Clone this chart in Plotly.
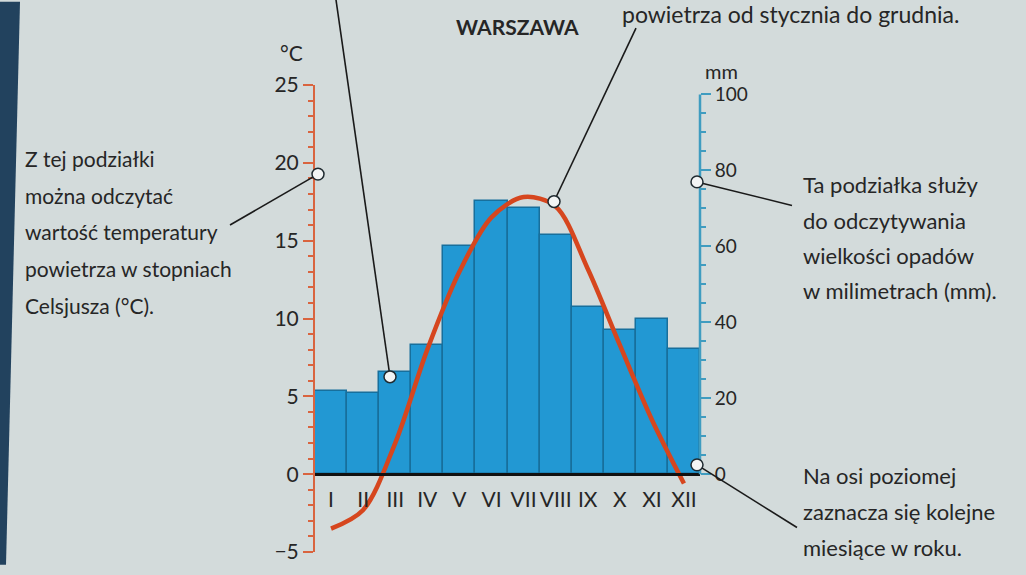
import plotly.graph_objects as go

# ---------------- data ----------------
months = ["I", "II", "III", "IV", "V", "VI", "VII", "VIII", "IX", "X", "XI", "XII"]
precip_mm = [22, 21.5, 27, 34, 60, 72, 70, 63, 44, 38, 41, 33]
temp_c = [-3.5, -2.3, 2.0, 8.0, 13.0, 16.5, 17.8, 17.2, 13.2, 8.3, 3.5, -0.6]
temp_ticks = [-5, 0, 5, 10, 15, 20, 25]
precip_ticks = [0, 20, 40, 60, 80, 100]

left_text = ["Z tej podziałki", "można odczytać", "wartość temperatury",
             "powietrza w stopniach", "Celsjusza (°C)."]
right_text = ["Ta podziałka służy", "do odczytywania", "wielkości opadów",
              "w milimetrach (mm)."]
bottom_text = ["Na osi poziomej", "zaznacza się kolejne", "miesiące w roku."]
top_text = "powietrza od stycznia do grudnia."
title_text = "WARSZAWA"

# ---------------- layout geometry ----------------
W, H = 1026, 575
L, R, T, B = 315, 326, 85, 13
PW, PH = W - L - R, H - T - B
T_RANGE = [-5, 25]
P_RANGE = [-20.5, 102.5]


def px(x):
    return (x - L) / PW


def py(y):
    return (H - B - y) / PH


BG = "#d3dbdb"
RED = "#d6461e"
AXRED = "#d9643f"
BLUE_AX = "#3f9cc0"
TXT = "#262626"
FONT = "Lato"

fig = go.Figure()

# precipitation bars on the base axis (y), temperature line on overlay (y2) so it is drawn above
fig.add_trace(go.Bar(
    x=list(range(len(months))), y=precip_mm, yaxis="y",
    marker=dict(color="#2298d3", line=dict(color="#176f9c", width=1.5)),
    width=1.0, showlegend=False, hoverinfo="skip",
))

fig.add_trace(go.Scatter(
    x=list(range(len(months))), y=temp_c, mode="lines", yaxis="y2",
    line=dict(color=RED, width=4.5, shape="spline", smoothing=0.9),
    showlegend=False, hoverinfo="skip", cliponaxis=False,
))

minor_t = [v for v in range(-5, 26) if v % 5 != 0]
minor_p = [v for v in range(0, 101, 5) if v % 20 != 0]
zero_pos = (0 - T_RANGE[0]) / (T_RANGE[1] - T_RANGE[0])

fig.update_layout(
    width=W, height=H,
    margin=dict(l=L, r=R, t=T, b=B, pad=0),
    paper_bgcolor=BG, plot_bgcolor=BG,
    bargap=0,
    font=dict(family=FONT, color=TXT),
    xaxis=dict(
        range=[-0.5, 11.5], tickmode="array",
        tickvals=list(range(len(months))), ticktext=months,
        anchor="free", position=zero_pos,
        showline=True, linecolor="#111111", linewidth=3,
        ticks="", showgrid=False, zeroline=False,
        tickfont=dict(size=21, color=TXT, family=FONT),
        ticklabelstandoff=6,
    ),
    yaxis=dict(
        range=P_RANGE, side="right",
        tickmode="array", tickvals=precip_ticks,
        showline=False,
        ticks="outside", ticklen=10, tickwidth=2, tickcolor=BLUE_AX,
        minor=dict(tickmode="array", tickvals=minor_p, ticks="outside",
                   ticklen=5, tickwidth=1.5, tickcolor=BLUE_AX),
        showgrid=False, zeroline=False,
        tickfont=dict(size=19, color=TXT, family=FONT),
        ticklabelstandoff=0,
    ),
    yaxis2=dict(
        range=T_RANGE, overlaying="y", side="left", anchor="x",
        tickmode="array", tickvals=temp_ticks,
        showline=True, linecolor=AXRED, linewidth=2,
        ticks="outside", ticklen=10, tickwidth=2, tickcolor=AXRED,
        minor=dict(tickmode="array", tickvals=minor_t, ticks="outside",
                   ticklen=5, tickwidth=1.5, tickcolor=AXRED),
        showgrid=False, zeroline=False,
        tickfont=dict(size=21, color=TXT, family=FONT),
    ),
)

shapes = []
# dark page edge on the left
shapes.append(dict(type="path", xref="paper", yref="paper",
                   path=f"M {px(0)},{py(0)} L {px(20)},{py(0)} L {px(6)},{py(575)} L {px(0)},{py(575)} Z",
                   fillcolor="#22425e", line=dict(width=0), layer="below"))
# right axis line (0-100 mm only)
shapes.append(dict(type="line", xref="paper", yref="y", x0=1, x1=1, y0=0, y1=100,
                   line=dict(color=BLUE_AX, width=2.5), layer="above"))

leaders = [
    ((230, 228), (318, 176)),
    ((336, -2), (390, 383)),
    ((636, 27), (554, 204)),
    ((792, 208), (697, 184)),
    ((797, 537), (697, 473)),
]
for (x0, y0), (x1, y1) in leaders:
    shapes.append(dict(type="line", xref="paper", yref="paper",
                       x0=px(x0), y0=py(y0), x1=px(x1), y1=py(y1),
                       line=dict(color="#1a1a1a", width=1.6), layer="above"))
r = 6
for _, (cx, cy) in leaders:
    shapes.append(dict(type="circle", xref="paper", yref="paper",
                       x0=px(cx - r), x1=px(cx + r), y0=py(cy + r), y1=py(cy - r),
                       fillcolor="#f2f4f4", line=dict(color="#1f2a30", width=1.5),
                       layer="above"))
fig.update_layout(shapes=shapes)

ann = []


def add_text(text, x, y, size=21, anchor="left", bold=False, yanchor="middle"):
    ann.append(dict(text=f"<b>{text}</b>" if bold else text,
                    xref="paper", yref="paper", x=px(x), y=py(y),
                    xanchor=anchor, yanchor=yanchor, showarrow=False,
                    font=dict(size=size, color=TXT, family=FONT)))


for i, t in enumerate(left_text):
    add_text(t, 23, 160 + i * 37.5, size=21)
for i, t in enumerate(right_text):
    add_text(t, 801, 187 + i * 36, size=22)
for i, t in enumerate(bottom_text):
    add_text(t, 801, 484 + i * 36.5, size=22)
add_text(top_text, 620, 29, size=23, yanchor="bottom")
add_text(title_text, 517, 25, size=21, anchor="center", bold=True)
add_text("°C", 291, 52, size=21, anchor="center")
add_text("mm", 721, 71, size=20, anchor="center")

fig.update_layout(annotations=ann)

fig.write_html(
    "out.html",
    config={"displayModeBar": False},
    post_script="document.body.style.margin='0px';document.body.style.overflow='hidden';",
)
